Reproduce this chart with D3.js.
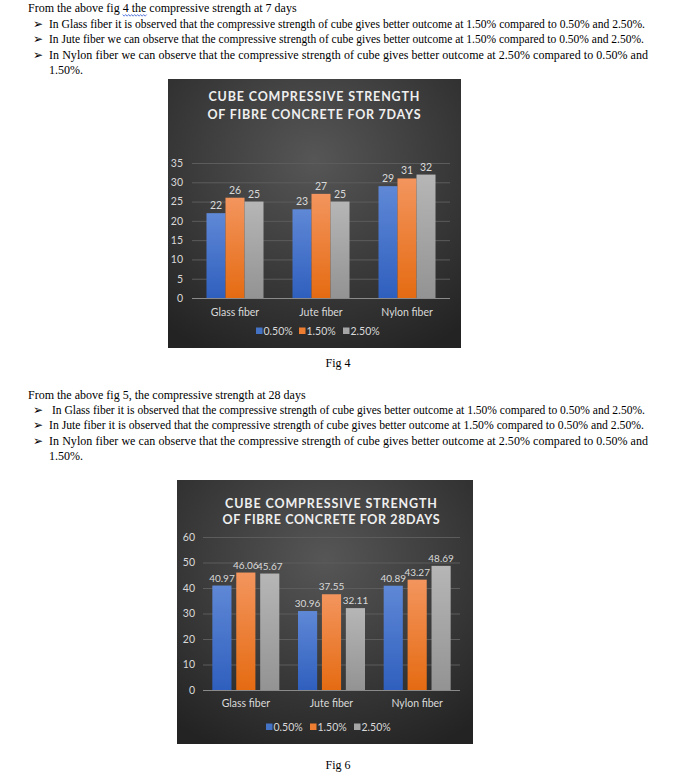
<!DOCTYPE html>
<html><head><meta charset="utf-8">
<script src="https://cdn.jsdelivr.net/npm/d3@7"></script>
<style>body{margin:0;background:#fff}</style>
</head><body><svg id="page" width="674" height="776"></svg>
<script>
// ---------- data ----------
const categories = ["Glass fiber", "Jute fiber", "Nylon fiber"];
const seriesNames = ["0.50%", "1.50%", "2.50%"];
const days7_050 = [22, 23, 29];
const days7_150 = [26, 27, 31];
const days7_250 = [25, 25, 32];
const days28_050 = [40.97, 30.96, 40.89];
const days28_150 = [46.06, 37.55, 43.27];
const days28_250 = [45.67, 32.11, 48.69];
const ticks7 = [0, 5, 10, 15, 20, 25, 30, 35];
const ticks28 = [0, 10, 20, 30, 40, 50, 60];
const title7 = ["CUBE COMPRESSIVE STRENGTH", "OF FIBRE CONCRETE FOR 7DAYS"];
const title28 = ["CUBE COMPRESSIVE STRENGTH", "OF FIBRE CONCRETE FOR 28DAYS"];
const para1 = [
  "From the above fig 4 the compressive strength at 7 days",
  "In Glass fiber it is observed that the compressive strength of cube gives better outcome at 1.50% compared to 0.50% and 2.50%.",
  "In Jute fiber we can observe that the compressive strength of cube gives better outcome at 1.50% compared to 0.50% and 2.50%.",
  "In Nylon fiber we can observe that the compressive strength of cube gives better outcome at 2.50% compared to 0.50% and",
  "1.50%."
];
const para2 = [
  "From the above fig 5, the compressive strength at 28 days",
  " In Glass fiber it is observed that the compressive strength of cube gives better outcome at 1.50% compared to 0.50% and 2.50%.",
  "In Jute fiber it is observed that the compressive strength of cube gives better outcome at 1.50% compared to 0.50% and 2.50%.",
  "In Nylon fiber we can observe that the compressive strength of cube gives better outcome at 2.50% compared to 0.50% and",
  "1.50%."
];
const captions = ["Fig 4", "Fig 6"];

// ---------- page ----------
const svg = d3.select("#page");
const defs = svg.append("defs");
const bg = defs.append("radialGradient").attr("id", "bgGrad")
  .attr("cx", "50%").attr("cy", "30%").attr("r", "80%");
bg.append("stop").attr("offset", "0%").attr("stop-color", "#565656");
bg.append("stop").attr("offset", "100%").attr("stop-color", "#232323");
const barCols = [["#5f88d6", "#2f5fbe"], ["#f3955e", "#e56b12"], ["#b6b6b6", "#939393"]];
barCols.forEach((c, i) => {
  const lg = defs.append("linearGradient").attr("id", "bar" + i)
    .attr("x1", 0).attr("y1", 0).attr("x2", 0).attr("y2", 1);
  lg.append("stop").attr("offset", "0%").attr("stop-color", c[0]);
  lg.append("stop").attr("offset", "100%").attr("stop-color", c[1]);
});
const legendCols = ["#4472c4", "#ed7d31", "#a5a5a5"];

const serif = "'Liberation Serif','Times New Roman',serif";
function drawPara(lines, y0, dy, underline) {
  const g = svg.append("g").attr("font-family", serif).attr("font-size", 12).attr("fill", "#000");
  lines.forEach((t, i) => {
    const y = y0 + i * dy;
    if (i === 0) {
      const t0 = g.append("text").attr("x", 28).attr("y", y).text(t);
      if (underline) {
        const idx = t.indexOf(underline);
        const node = t0.node();
        const sx = 28 + node.getSubStringLength(0, idx);
        const w = node.getSubStringLength(idx, underline.length);
        let d = `M${sx},${y + 2.5}`;
        let k = 0;
        for (let x = sx; x < sx + w; x += 1.5, k++) d += ` L${x + 1.5},${y + (k % 2 ? 2.5 : 4.2)}`;
        g.append("path").attr("d", d).attr("fill", "none").attr("stroke", "#3f62d4").attr("stroke-width", 0.8);
      }
    } else if (i === 4) {
      g.append("text").attr("x", 49).attr("y", y).text(t);
    } else {
      g.append("text").attr("x", 33).attr("y", y).attr("font-family", "'DejaVu Sans',sans-serif")
        .attr("font-size", 12).text("\u27A2");
      const tx = g.append("text").attr("x", 49).attr("y", y).attr("xml:space", "preserve").text(t);
      if (i === 3) tx.attr("textLength", 599).attr("lengthAdjust", "spacing");
      else tx.attr("textLength", i === 1 ? 596 : 595).attr("lengthAdjust", "spacingAndGlyphs");
    }
  });
}
drawPara(para1, 12, 15.5, "4 the");
drawPara(para2, 399, 15.2, null);

svg.append("text").attr("x", 338).attr("y", 367).attr("text-anchor", "middle")
  .attr("font-family", serif).attr("font-size", 12).text(captions[0]);
svg.append("text").attr("x", 338).attr("y", 769).attr("text-anchor", "middle")
  .attr("font-family", serif).attr("font-size", 12).text(captions[1]);

// ---------- chart ----------
const sans = "Lato,'Open Sans','Liberation Sans',sans-serif";
function drawChart(o) {
  const g = svg.append("g");
  g.append("rect").attr("x", o.box[0]).attr("y", o.box[1]).attr("width", o.box[2]).attr("height", o.box[3])
    .attr("fill", "url(#bgGrad)");
  o.title.forEach((t, i) => {
    g.append("text").attr("x", o.titleCx).attr("y", o.titleY[i]).attr("text-anchor", "middle")
      .attr("font-family", sans).attr("font-weight", "bold").attr("font-size", 12.5)
      .attr("fill", "#efefef").attr("textLength", o.titleW[i]).attr("lengthAdjust", "spacing").text(t);
  });
  const y = d3.scaleLinear().domain([0, o.yMax]).range([o.yBottom, o.yTop]);
  const x0 = d3.scaleBand().domain(categories).range([o.x0, o.x1])
    .paddingInner(o.padIn).paddingOuter(o.padIn / 2);
  const x1 = d3.scaleBand().domain(seriesNames).range([0, x0.bandwidth()]).paddingInner(o.barPad);
  const yAxis = d3.axisLeft(y).tickValues(o.ticks).tickSize(-(o.gridX1 - o.x0)).tickPadding(o.tickPad);
  const ax = g.append("g").attr("transform", `translate(${o.x0},0)`).call(yAxis);
  ax.select(".domain").remove();
  ax.selectAll(".tick line").attr("stroke", "#5c5c5c").attr("stroke-width", 1);
  ax.selectAll(".tick").filter(d => d === 0).select("line").attr("stroke", "#8a8a8a");
  ax.selectAll(".tick text").attr("fill", "#d9d9d9").attr("font-family", sans).attr("font-size", 10.5);
  const data = o.series;
  seriesNames.forEach((s, si) => {
    categories.forEach((c, ci) => {
      const v = data[si][ci];
      const bx = x0(c) + x1(s);
      g.append("rect").attr("x", bx).attr("y", y(v)).attr("width", x1.bandwidth())
        .attr("height", y(0) - y(v)).attr("fill", `url(#bar${si})`);
      g.append("text").attr("x", bx + x1.bandwidth() / 2).attr("y", y(v) - 4)
        .attr("text-anchor", "middle").attr("font-family", sans).attr("font-size", o.labelSize)
        .attr("fill", "#d9d9d9").text(v);
    });
  });
  const xAxis = d3.axisBottom(x0).tickSize(0).tickPadding(0);
  const xa = g.append("g").attr("transform", `translate(0,${o.catY})`).call(xAxis);
  xa.select(".domain").remove();
  xa.selectAll(".tick text").attr("fill", "#d9d9d9").attr("font-family", sans).attr("font-size", 10.5).attr("dy", "0");
  seriesNames.forEach((s, si) => {
    const lx = o.legendX[si];
    g.append("rect").attr("x", lx).attr("y", o.legendY - 3.5).attr("width", 6.5).attr("height", 6.5)
      .attr("fill", legendCols[si]);
    g.append("text").attr("x", lx + 7.5).attr("y", o.legendY + 3.8).attr("font-family", sans)
      .attr("font-size", 10.5).attr("fill", "#d9d9d9").text(s);
  });
}

drawChart({
  box: [168, 79, 293, 269], titleCx: 314, titleY: [101, 119], titleW: [211, 213],
  title: title7, yMax: 35, ticks: ticks7, x0: 192, x1: 450, gridX1: 450, yTop: 163, yBottom: 298,
  padIn: 0.337, barPad: 0, tickPad: 9, labelSize: 10.5, series: [days7_050, days7_150, days7_250],
  catY: 316, legendY: 331, legendX: [256, 299, 343]
});
drawChart({
  box: [177, 480, 296, 264], titleCx: 331, titleY: [508, 524], titleW: [212, 217],
  title: title28, yMax: 60, ticks: ticks28, x0: 203, x1: 460, gridX1: 460, yTop: 537, yBottom: 690,
  padIn: 0.218, barPad: 0.2, tickPad: 8, labelSize: 10, series: [days28_050, days28_150, days28_250],
  catY: 707, legendY: 727, legendX: [266, 310, 354]
});
</script></body></html>
